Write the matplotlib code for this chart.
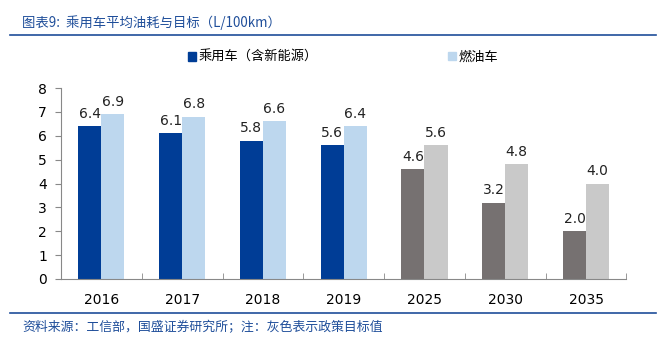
import matplotlib
matplotlib.use("Agg")
from matplotlib import pyplot as plt
from matplotlib.patches import Rectangle
from matplotlib.lines import Line2D
import numpy as np

plt.rcParams['font.family'] = ['DejaVu Sans', 'Noto Sans CJK SC']

years = ['2016', '2017', '2018', '2019', '2025', '2030', '2035']
passenger = [6.4, 6.1, 5.8, 5.6, 4.6, 3.2, 2.0]
fuel_car = [6.9, 6.8, 6.6, 6.4, 5.6, 4.8, 4.0]
is_target = [False, False, False, False, True, True, True]

title = '图表9:  乘用车平均油耗与目标（L/100km）'
source = '资料来源：工信部，国盛证券研究所；注：灰色表示政策目标值'
legend_labels = ['乘用车（含新能源）', '燃油车']

dark_blue = '#003D96'
light_blue = '#BDD7EE'
dark_grey = '#767171'
light_grey = '#C9C9C9'
text_blue = '#1F4E9A'
cjk = ['Noto Sans CJK SC', 'DejaVu Sans']

fig = plt.figure(figsize=(6.66, 3.44), dpi=100)
ax = fig.add_axes([0.0916, 0.189, 0.849, 0.555])

index = np.arange(len(years))
width = 0.285
c1 = [dark_grey if t else dark_blue for t in is_target]
c2 = [light_grey if t else light_blue for t in is_target]
b1 = ax.bar(index - width / 2, passenger, width, color=c1)
b2 = ax.bar(index + width / 2, fuel_car, width, color=c2)

for rect, v in zip(b1, passenger):
    ax.text(rect.get_x() + rect.get_width() / 2, v + 0.22, f'{v:.1f}',
            ha='center', va='bottom', fontsize=10, color='#222222')
for rect, v in zip(b2, fuel_car):
    ax.text(rect.get_x() + rect.get_width() / 2, v + 0.22, f'{v:.1f}',
            ha='center', va='bottom', fontsize=10, color='#222222')

ax.set_xlim(-0.5, len(years) - 0.5)
ax.set_ylim(0, 8)
ax.set_yticks(range(0, 9))
ax.set_xticks(index)
ax.set_xticklabels(years)
ax.set_xticks(np.arange(-0.5, len(years)), minor=True)
ax.tick_params(axis='x', which='major', length=0, pad=10, labelsize=10)
ax.tick_params(axis='x', which='minor', length=4, color='#888888', direction='in')
ax.tick_params(axis='y', length=4, color='#888888', labelsize=10, pad=6)
for s in ['top', 'right']:
    ax.spines[s].set_visible(False)
ax.spines['left'].set_color('#888888')
ax.spines['bottom'].set_color('#888888')

# title, rules and footer
fig.text(0.033, 0.933, title, family=cjk, fontsize=9.6, color=text_blue,
         style='italic', va='center', ha='left')
fig.add_artist(Line2D([0.015, 0.985], [0.898, 0.898], color=text_blue, lw=1.2))
fig.add_artist(Line2D([0.015, 0.985], [0.090, 0.090], color=text_blue, lw=1.2))
fig.text(0.033, 0.047, source, family=cjk, fontsize=9.3, color=text_blue,
         style='italic', va='center', ha='left')

# legend
handles = [Rectangle((0, 0), 1, 1, color=dark_blue),
           Rectangle((0, 0), 1, 1, color=light_blue)]
fig.legend([handles[0]], [legend_labels[0]], loc='center left',
           bbox_to_anchor=(0.265, 0.833), frameon=False,
           handlelength=0.6, handleheight=0.6, handletextpad=0.2,
           prop={'family': cjk, 'size': 9.5})
fig.legend([handles[1]], [legend_labels[1]], loc='center left',
           bbox_to_anchor=(0.655, 0.833), frameon=False,
           handlelength=0.6, handleheight=0.6, handletextpad=0.2,
           prop={'family': cjk, 'size': 9.5})

fig.savefig('out.png', dpi=100)
